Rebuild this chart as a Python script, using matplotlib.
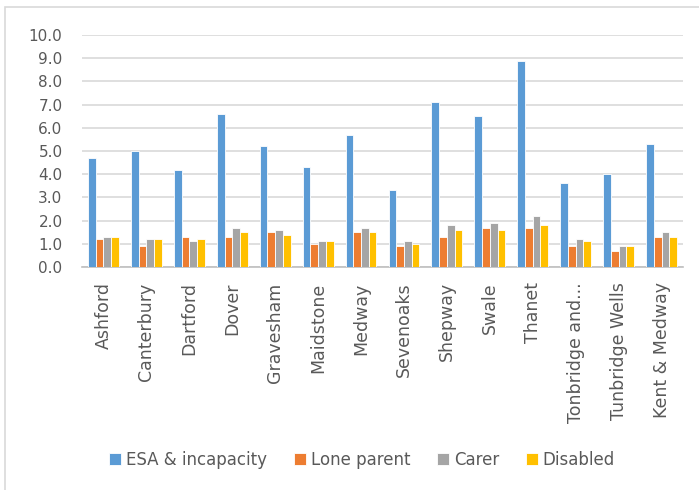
import numpy as np
import matplotlib.pyplot as plt
from matplotlib.patches import Rectangle

districts = ['Ashford', 'Canterbury', 'Dartford', 'Dover', 'Gravesham', 'Maidstone',
             'Medway', 'Sevenoaks', 'Shepway', 'Swale', 'Thanet', 'Tonbridge and...',
             'Tunbridge Wells', 'Kent & Medway']
esa = [4.7, 5.0, 4.2, 6.6, 5.2, 4.3, 5.7, 3.3, 7.1, 6.5, 8.9, 3.6, 4.0, 5.3]
lone_parent = [1.2, 0.9, 1.3, 1.3, 1.5, 1.0, 1.5, 0.9, 1.3, 1.7, 1.7, 0.9, 0.7, 1.3]
carer = [1.3, 1.2, 1.1, 1.7, 1.6, 1.1, 1.7, 1.1, 1.8, 1.9, 2.2, 1.2, 0.9, 1.5]
disabled = [1.3, 1.2, 1.2, 1.5, 1.4, 1.1, 1.5, 1.0, 1.6, 1.6, 1.8, 1.1, 0.9, 1.3]

series = [('ESA & incapacity', esa, '#5B9BD5'),
          ('Lone parent', lone_parent, '#ED7D31'),
          ('Carer', carer, '#A5A5A5'),
          ('Disabled', disabled, '#FFC000')]

plt.rcParams['font.family'] = ['DejaVu Sans']

fig = plt.figure(figsize=(6.99, 4.9), dpi=100)
ax = fig.add_axes([82 / 699, 1 - 267 / 490, 601 / 699, 232 / 490])

# chart border
fig.patches.append(Rectangle((5 / 699, -0.1), 1.1, 1 - 7 / 490 + 0.1,
                             transform=fig.transFigure, fill=False,
                             edgecolor='#D9D9D9', linewidth=1.2))

x = np.arange(len(districts))
w = 0.18
for i, (name, vals, col) in enumerate(series):
    ax.bar(x + (i - 1.5) * w, vals, width=w, color=col, edgecolor='white',
           linewidth=0.6, label=name, zorder=3)

ax.set_xlim(-0.5, len(districts) - 0.5)
ax.set_ylim(0, 10)
ax.set_yticks(np.arange(0, 10.1, 1.0))
ax.set_yticklabels([f'{v:.1f}' for v in np.arange(0, 10.1, 1.0)])
ax.set_xticks(x)
ax.set_xticklabels(districts, rotation=90)
ax.tick_params(axis='both', length=0, colors='#595959')
ax.tick_params(axis='x', pad=11, labelsize=12.5)
ax.tick_params(axis='y', pad=14, labelsize=11)
ax.grid(axis='y', color='#D9D9D9', linewidth=1.2, zorder=0)
for s in ['top', 'right', 'left']:
    ax.spines[s].set_visible(False)
ax.spines['bottom'].set_color('#BFBFBF')
ax.spines['bottom'].set_linewidth(1.2)

fig.legend(loc='center', bbox_to_anchor=(0.518, 1 - 460 / 490), ncol=4,
           frameon=False, fontsize=12, handlelength=0.72, handleheight=0.72,
           handletextpad=0.3, columnspacing=1.6, labelcolor='#595959')

fig.savefig('out.png', dpi=100)
